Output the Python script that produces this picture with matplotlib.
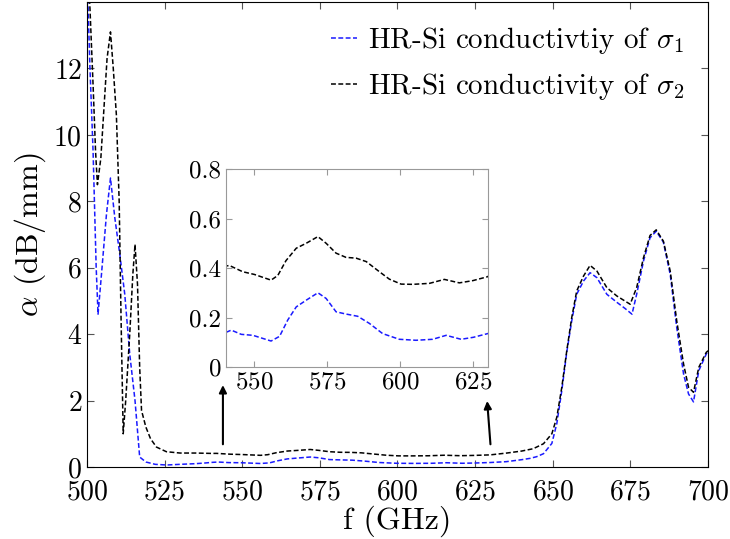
import numpy as np
import matplotlib
matplotlib.use("Agg")
import matplotlib.pyplot as plt

plt.rcParams['font.family'] = 'serif'
plt.rcParams['font.serif'] = ['cmr10', 'DejaVu Serif']
plt.rcParams['mathtext.fontset'] = 'cm'
plt.rcParams['axes.formatter.use_mathtext'] = True

# frequency (GHz) and attenuation (dB/mm)
f_s1 = [500, 501, 502, 503, 503.6, 504.7, 506.3, 507.6, 509, 510.6, 512.2, 513.8,
        515.5, 517, 519, 522, 525.7, 530, 535, 538,
        540.3, 542.3, 545.7, 549.7, 555.9, 558.8, 561.6, 564.5, 567.9, 571.9,
        574.7, 578.1, 581.5, 585.5, 589.5, 594.0, 599.7, 605.4, 611.1, 615.7,
        620.8, 625, 629.9, 635, 640, 642.7, 644.8, 647, 649.7, 651.3, 652.9,
        654.5, 656.1, 657.7, 659.9, 662, 664.2, 667.4, 670.6, 673.3, 675.5,
        677, 679.2, 681.3, 683.3, 685.6, 687.8, 689.9, 692.1, 693.7, 695.3,
        697, 699.4, 700]
a_s1 = [15.0, 12.0, 9.5, 6.0, 4.6, 5.8, 7.6, 8.7, 7.5, 6.4, 5.2, 3.4,
        2.0, 0.3, 0.15, 0.08, 0.06, 0.08, 0.1, 0.12,
        0.139, 0.149, 0.132, 0.128, 0.105, 0.124, 0.19, 0.243, 0.27, 0.30,
        0.277, 0.223, 0.214, 0.205, 0.176, 0.135, 0.112, 0.108, 0.112, 0.128,
        0.112, 0.12, 0.135, 0.16, 0.22, 0.26, 0.31, 0.4, 0.71, 1.31, 2.3,
        3.46, 4.4, 5.2, 5.6, 5.85, 5.7, 5.2, 4.96, 4.77, 4.6,
        5.2, 6.2, 6.9, 7.1, 6.77, 5.8, 4.2, 2.8, 2.2, 1.96,
        2.9, 3.4, 3.5]

f_s2 = [500, 501, 502, 502.8, 503.4, 504.5, 505.5, 506.5, 507.6, 508.5, 509.5,
        510.4, 511, 511.7, 512.5, 513.8, 514.8, 515.5, 516.3, 517, 517.6, 519,
        520.5, 522.4, 525.6, 530, 535,
        540.3, 541.7, 546.2, 550.2, 555.9, 558.2, 561, 564.5, 567.9, 571.9,
        574.7, 578.1, 581.5, 584.9, 588.4, 592.9, 596.3, 600.3, 604.3, 610,
        615.1, 620.2, 624.8, 629.9, 635.2, 640, 643.7, 647, 649.7, 651.3,
        652.9, 654.5, 656.1, 657.7, 659.9, 662, 664.2, 667.4, 670.6, 674.9,
        677, 679.2, 681.3, 683.3, 685.6, 687.8, 689.9, 692.1, 693.7, 695.3,
        697, 699.4, 700]
a_s2 = [15.5, 13.8, 11.5, 9.5, 8.5, 9.3, 10.8, 12.3, 13.1, 12.0, 10.6,
        8.0, 4.5, 1.0, 2.0, 4.0, 5.8, 6.7, 5.5, 3.0, 1.7, 1.2,
        0.85, 0.6, 0.46, 0.42, 0.42,
        0.408, 0.41, 0.385, 0.374, 0.351, 0.37, 0.43, 0.48, 0.50, 0.527,
        0.50, 0.46, 0.443, 0.44, 0.426, 0.385, 0.355, 0.335, 0.334, 0.338,
        0.354, 0.34, 0.349, 0.365, 0.42, 0.48, 0.55, 0.7, 1.0, 1.5,
        2.4, 3.5, 4.5, 5.3, 5.75, 6.07, 5.9, 5.4, 5.15, 4.9,
        5.4, 6.3, 6.97, 7.14, 6.8, 5.9, 4.4, 3.1, 2.4, 2.25,
        3.0, 3.45, 3.5]

xticks = [500, 525, 550, 575, 600, 625, 650, 675, 700]
yticks = [0, 2, 4, 6, 8, 10, 12]
inset_xticks = [550, 575, 600, 625]
inset_yticks = [0, 0.2, 0.4, 0.6, 0.8]

blue = '#1a1aff'
dash = (0, (3.2, 1.6))

fig = plt.figure(figsize=(7.3, 5.39), dpi=100)
ax = fig.add_axes([0.119, 0.1336, 0.851, 0.8627])
ax.plot(f_s1, a_s1, color=blue, lw=1.1, linestyle=dash,
        label=r'HR-Si conductivtiy of $\sigma_1$')
ax.plot(f_s2, a_s2, color='black', lw=1.1, linestyle=dash,
        label=r'HR-Si conductivity of $\sigma_2$')
ax.set_xlim(500, 700)
ax.set_ylim(0, 14)
ax.set_xticks(xticks)
ax.set_yticks(yticks)
ax.tick_params(direction='in', top=True, right=True, labelsize=20, length=5,
               width=0.8, color='#555555')
ax.tick_params(axis='x', pad=9)
ax.set_xlabel('f (GHz)', fontsize=23, labelpad=0)
ax.set_ylabel(r'$\alpha$ (dB/mm)', fontsize=23, labelpad=4)
leg = ax.legend(loc='upper right', frameon=False, fontsize=21, handlelength=0.9,
                handletextpad=0.4, labelspacing=0.5, borderaxespad=0.4)

# arrows marking the zoomed span
ax.annotate('', xy=(543.8, 2.55), xytext=(543.8, 0.6),
            arrowprops=dict(arrowstyle='-|>', color='black', lw=1.5, mutation_scale=11))
ax.annotate('', xy=(628.8, 2.07), xytext=(630.0, 0.6),
            arrowprops=dict(arrowstyle='-|>', color='black', lw=1.5, mutation_scale=11))

ins = fig.add_axes([0.3096, 0.3191, 0.3589, 0.3673])
ins.plot(f_s1, a_s1, color=blue, lw=1.1, linestyle=dash)
ins.plot(f_s2, a_s2, color='black', lw=1.1, linestyle=dash)
ins.set_xlim(540.5, 630)
ins.set_ylim(0, 0.8)
ins.set_xticks(inset_xticks)
ins.set_yticks(inset_yticks)
ins.set_yticklabels(['0', '0.2', '0.4', '0.6', '0.8'])
ins.tick_params(direction='in', top=True, right=True, labelsize=18, length=4,
                width=0.8, color='#999999')
for s in ins.spines.values():
    s.set_color('#999999')

fig.savefig('out.png', dpi=100)
